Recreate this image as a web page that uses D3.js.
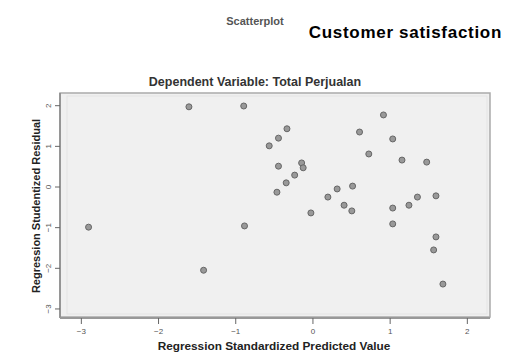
<!DOCTYPE html>
<meta charset="utf-8">

<style>

body {
  margin: 0;
  background: #fff;
}

svg text {
  font-family: "Liberation Sans", Arial, sans-serif;
}

.small-title {
  font-weight: bold;
  fill: #444;
}

.axis-title {
  font-weight: bold;
  fill: #222;
}

.tick-label {
  font-size: 8px;
  fill: #555;
}

</style>

<svg class="chart" width="505" height="356"></svg>

<script src="https://d3js.org/d3.v7.min.js"></script>

<script>

// predicted values (standardized) and studentized residuals
var predicted = [-2.90, -1.60, -0.89, -0.88, -1.41, -0.56, -0.44, -0.33, -0.44, -0.14,
                 -0.12, -0.23, -0.34, -0.46, -0.02, 0.20, 0.32, 0.52, 0.41, 0.51,
                 0.61, 0.92, 0.73, 1.04, 1.16, 1.48, 1.36, 1.60, 1.25, 1.04,
                 1.04, 1.60, 1.57, 1.69];
var residual = [-1.00, 1.96, 1.98, -0.97, -2.06, 1.00, 1.19, 1.42, 0.50, 0.58,
                0.46, 0.28, 0.09, -0.14, -0.65, -0.26, -0.06, 0.01, -0.46, -0.60,
                1.34, 1.76, 0.80, 1.17, 0.65, 0.60, -0.26, -0.23, -0.46, -0.53,
                -0.92, -1.24, -1.56, -2.40];

var xTicks = [-3, -2, -1, 0, 1, 2];
var yTicks = [2, 1, 0, -1, -2, -3];

var svg = d3.select("svg.chart");

var plot = {left: 60, right: 490, top: 93, bottom: 317};

var x = d3.scaleLinear().domain([-3.27, 2.30]).range([plot.left, plot.right]);
var y = d3.scaleLinear().domain([-3.21, 2.30]).range([plot.bottom, plot.top]);

// titles
svg.append("text")
  .attr("class", "small-title")
  .attr("x", 255).attr("y", 25)
  .attr("text-anchor", "middle")
  .style("font-size", "11px")
  .style("fill", "#555")
  .text("Scatterplot");

svg.append("text")
  .attr("x", 502).attr("y", 38)
  .attr("text-anchor", "end")
  .style("font-size", "17px")
  .style("letter-spacing", "0.7px")
  .style("font-weight", "bold")
  .style("fill", "#000")
  .text("Customer satisfaction");

svg.append("text")
  .attr("class", "small-title")
  .attr("x", 255).attr("y", 86)
  .attr("text-anchor", "middle")
  .style("font-size", "12.5px")
  .style("fill", "#333")
  .text("Dependent Variable: Total Perjualan");

// plot frame
svg.append("rect")
  .attr("x", plot.left).attr("y", plot.top)
  .attr("width", plot.right - plot.left)
  .attr("height", plot.bottom - plot.top)
  .attr("fill", "#f0f0f0")
  .attr("stroke", "#aaa")
  .attr("stroke-width", 1.5);

svg.append("rect")
  .attr("x", plot.left + 7).attr("y", plot.top + 3)
  .attr("width", plot.right - plot.left - 10)
  .attr("height", plot.bottom - plot.top - 6)
  .attr("fill", "none")
  .attr("stroke", "#e4e4e4")
  .attr("stroke-width", 1);

// left and bottom axis lines
svg.append("line")
  .attr("x1", plot.left).attr("x2", plot.left)
  .attr("y1", plot.top).attr("y2", plot.bottom + 1)
  .attr("stroke", "#888").attr("stroke-width", 1.5);

svg.append("line")
  .attr("x1", plot.left).attr("x2", plot.right)
  .attr("y1", plot.bottom + 1).attr("y2", plot.bottom + 1)
  .attr("stroke", "#999").attr("stroke-width", 2);

// x axis
var xAxis = svg.append("g")
  .attr("transform", `translate(0,${plot.bottom + 1})`)
  .call(d3.axisBottom(x).tickValues(xTicks).tickSize(6).tickSizeOuter(0).tickFormat(d3.format("d")));

xAxis.select(".domain").remove();
xAxis.selectAll(".tick line").attr("stroke", "#666");
xAxis.selectAll(".tick text").attr("class", "tick-label").attr("dy", "0.9em");

// y axis
var yAxis = svg.append("g")
  .attr("transform", `translate(${plot.left},0)`)
  .call(d3.axisLeft(y).tickValues(yTicks).tickSize(5).tickSizeOuter(0).tickFormat(d3.format("d")));

yAxis.select(".domain").remove();
yAxis.selectAll(".tick line").attr("stroke", "#666");
yAxis.selectAll(".tick text")
  .attr("class", "tick-label")
  .attr("x", null).attr("dy", null)
  .attr("text-anchor", "middle")
  .attr("transform", "translate(-9,0) rotate(-90)");

// axis titles
svg.append("text")
  .attr("class", "axis-title")
  .attr("x", 274).attr("y", 350)
  .attr("text-anchor", "middle")
  .style("font-size", "11.8px")
  .text("Regression Standardized Predicted Value");

svg.append("text")
  .attr("class", "axis-title")
  .attr("text-anchor", "middle")
  .attr("transform", "translate(40,206) rotate(-90)")
  .style("font-size", "11px")
  .text("Regression Studentized Residual");

// points
var points = predicted.map(function(p, i) { return {x: p, y: residual[i]}; });

svg.append("g")
  .selectAll("circle")
  .data(points)
  .enter()
  .append("circle")
    .attr("cx", function(d) { return x(d.x); })
    .attr("cy", function(d) { return y(d.y); })
    .attr("r", 3)
    .attr("fill", "#999")
    .attr("stroke", "#666")
    .attr("stroke-width", 1);

</script>
